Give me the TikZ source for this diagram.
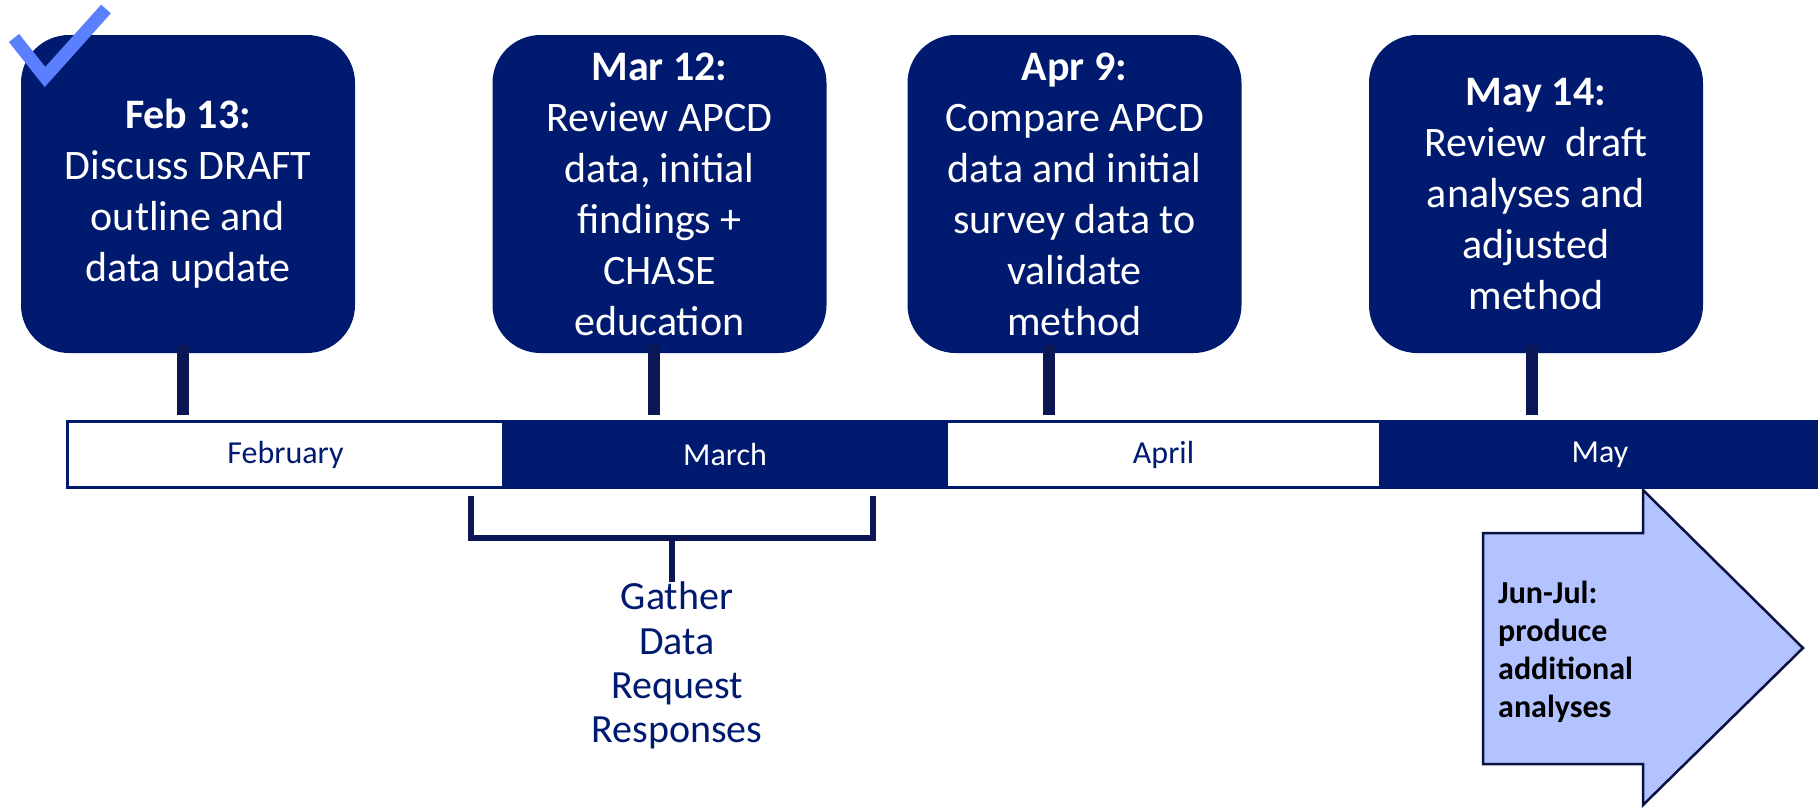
\documentclass[tikz,border=0pt]{standalone}
\usepackage{fontspec}
\setmainfont{Carlito}
\usepackage{xcolor}
\usepackage{tikz}
\usetikzlibrary{arrows.meta,positioning,calc}
\definecolor{navy}{HTML}{001A70}
\definecolor{stemnavy}{HTML}{0B1655}
\definecolor{tickblue}{HTML}{5A80FF}
\definecolor{arrowfill}{HTML}{B3C3FF}
\definecolor{arrowline}{HTML}{0A1040}
\tikzset{
  evbox/.style={rounded corners=48pt, fill=navy, text=white, align=center, inner sep=0pt,
                minimum width=334pt, minimum height=318pt, font=\fontsize{42}{51}\selectfont},
  monthw/.style={draw=navy, line width=3pt, fill=white, text=navy, inner sep=0pt,
                 minimum width=436pt, minimum height=66pt, font=\fontsize{32}{38}\selectfont},
  monthd/.style={fill=navy, text=white, inner sep=0pt,
                 minimum height=69pt, font=\fontsize{32}{38}\selectfont},
  stemline/.style={draw=stemnavy, line width=12pt},
  bracket/.style={draw=stemnavy, line width=6pt},
  gathertxt/.style={text=navy, align=center, inner sep=0pt, font=\fontsize{40}{44.3}\selectfont},
  arrowshape/.style={draw=arrowline, fill=arrowfill, line width=2.5pt, line join=miter},
  arrowtxt/.style={text=black, align=left, inner sep=0pt, font=\bfseries\fontsize{32}{38}\selectfont},
  tick/.style={draw=tickblue, line width=13pt, line join=miter},
}
\begin{document}
\begin{tikzpicture}[x=1pt, y=-1pt, >=Stealth]
  \useasboundingbox (0,0) rectangle (1818,807);
  \node[evbox] (feb) at (188,194)    {\textbf{Feb 13:}\\Discuss DRAFT\\outline and\\data update};
  \node[evbox] (mar) at (659.5,194)  {\textbf{Mar 12:}\\Review APCD\\data, initial\\findings +\\CHASE\\education};
  \node[evbox] (apr) at (1074.5,194) {\textbf{Apr 9:}\\Compare APCD\\data and initial\\survey data to\\validate\\method};
  \node[evbox] (may) at (1536,194)   {\textbf{May 14:}\\Review~ draft\\analyses and\\adjusted\\method};
  \draw[tick] (14,38) -- (45,77) -- (106,9);
  \node[monthw] (febbar) at (285.5,454.5)                      {February};
  \node[monthd, minimum width=440pt] (marbar) at (725,454.5)   {March};
  \node[monthw, minimum width=434pt] (aprbar) at (1163.5,454.5) {April};
  \node[monthd, minimum width=436pt] (maybar) at (1600,454.5)  {May};
  \coordinate (tfeb) at (183,415);  \coordinate (tmar) at (654,415);
  \coordinate (tapr) at (1049,415); \coordinate (tmay) at (1532,415);
  \draw[stemline] ($(feb.south -| tfeb)+(0,-8)$) -- (tfeb);
  \draw[stemline] ($(mar.south -| tmar)+(0,-8)$) -- (tmar);
  \draw[stemline] ($(apr.south -| tapr)+(0,-8)$) -- (tapr);
  \draw[stemline] ($(may.south -| tmay)+(0,-8)$) -- (tmay);
  \coordinate (bl) at (471,496); \coordinate (br) at (873,496);
  \coordinate (bm) at (672,538);
  \draw[bracket] (bl) -- ++(0,42) -| (br);
  \node[gathertxt, anchor=north] (gather) at (677,582) {Gather\\Data\\Request\\Responses};
  \draw[bracket] (bm) -- (gather.north -| bm);
  \draw[arrowshape] (1483,533) -- (1643,533) -- (1643,490) -- (1803,648)
                    -- (1643,805) -- (1643,764) -- (1483,764) -- cycle;
  \node[arrowtxt, anchor=north west] (junjul) at (1498,581) {Jun-Jul:\\produce\\additional\\analyses};
\end{tikzpicture}
\end{document}
